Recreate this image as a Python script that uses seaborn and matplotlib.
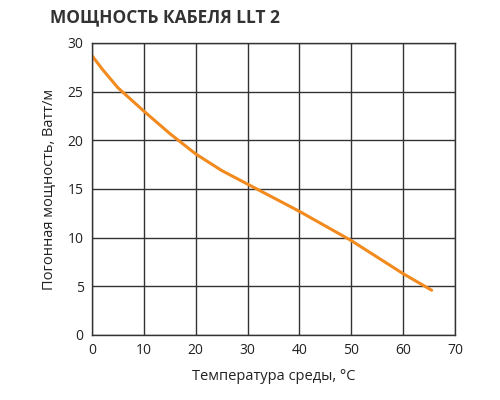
import matplotlib
matplotlib.use("Agg")
import matplotlib.pyplot as plt
import seaborn as sns

temp = [0, 2, 5, 10, 15, 20, 25, 30, 35, 40, 45, 50, 55, 60, 65.5]
power = [28.7, 27.3, 25.4, 23.0, 20.7, 18.6, 16.9, 15.5, 14.1, 12.7, 11.2, 9.7, 8.0, 6.3, 4.6]

sns.set_style("white")
plt.rcParams["font.family"] = ["Open Sans", "DejaVu Sans"]

fig = plt.figure(figsize=(5, 4), dpi=100)
ax = fig.add_axes([0.184, 0.1625, 0.726, 0.73])
sns.lineplot(x=temp, y=power, color="#f28a1e", linewidth=2.2, ax=ax)

ax.set_xlim(0, 70)
ax.set_ylim(0, 30)
ax.set_xticks(range(0, 71, 10))
ax.set_yticks(range(0, 31, 5))
ax.grid(True, color="#333333", linewidth=1)
for s in ax.spines.values():
    s.set_color("#333333")
    s.set_linewidth(1)
ax.tick_params(labelsize=10, colors="#222222", length=0, pad=6)
ax.set_xlabel("Температура среды, °C", fontsize=10.5, color="#222222", labelpad=8)
ax.set_ylabel("Погонная мощность, Ватт/м", fontsize=10.5, color="#222222", labelpad=8)
fig.text(0.1, 0.945, "МОЩНОСТЬ КАБЕЛЯ LLT 2", fontsize=12.5, fontweight="bold", color="#333333")

fig.savefig("out.png", dpi=100)
